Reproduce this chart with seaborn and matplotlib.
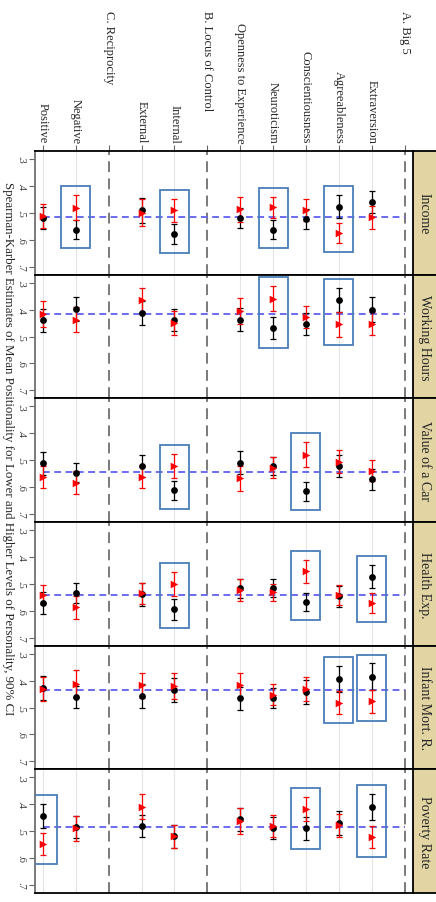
import numpy as np
import pandas as pd
import matplotlib.pyplot as plt
import matplotlib.transforms as mt
from matplotlib.patches import Rectangle
import seaborn as sns

cats=["Positive","Negative","External","Internal","Openness to Experience",
    "Neuroticism","Conscientiousness","Agreeableness","Extraversion"]
cat_pos=[1,2,4,5,7,8,9,10,11]
groups=["C. Reciprocity","B. Locus of Control","A. Big 5"]
group_pos=[3,6,12]
panels=["Income","Working Hours","Value of a Car","Health Exp.","Infant Mort. R.","Poverty Rate"]
ticks=[.3,.4,.5,.6,.7]
tick_labels=[".3",".4",".5",".6",".7"]

#black = lower level, red = higher level; ci = half width of 90% CI
income_low=[0.519,0.562,0.491,0.580,0.519,0.562,0.524,0.478,0.460]
income_low_ci=[0.040,0.037,0.045,0.037,0.038,0.035,0.037,0.043,0.042]
income_high=[0.511,0.481,0.499,0.491,0.487,0.480,0.489,0.574,0.517]
income_high_ci=[0.044,0.046,0.049,0.042,0.047,0.040,0.042,0.037,0.043]

hours_low=[0.439,0.399,0.412,0.439,0.437,0.468,0.455,0.365,0.400]
hours_low_ci=[0.043,0.045,0.045,0.042,0.043,0.040,0.041,0.045,0.046]
hours_high=[0.416,0.437,0.365,0.449,0.404,0.359,0.428,0.455,0.452]
hours_high_ci=[0.047,0.047,0.045,0.045,0.049,0.046,0.042,0.045,0.042]

car_low=[0.512,0.547,0.522,0.612,0.509,0.522,0.616,0.521,0.571]
car_low_ci=[0.043,0.035,0.042,0.036,0.043,0.035,0.036,0.040,0.039]
car_high=[0.562,0.584,0.562,0.521,0.568,0.528,0.479,0.506,0.540]
car_high_ci=[0.042,0.043,0.042,0.044,0.045,0.038,0.047,0.043,0.039]

health_low=[0.572,0.535,0.538,0.594,0.516,0.516,0.568,0.547,0.473]
health_low_ci=[0.040,0.038,0.043,0.039,0.035,0.033,0.034,0.040,0.043]
health_high=[0.541,0.587,0.535,0.500,0.522,0.532,0.454,0.541,0.572]
health_high_ci=[0.035,0.043,0.040,0.044,0.040,0.033,0.044,0.038,0.037]

infant_low=[0.427,0.461,0.458,0.436,0.466,0.464,0.443,0.393,0.386]
infant_low_ci=[0.046,0.040,0.045,0.045,0.043,0.038,0.045,0.049,0.050]
infant_high=[0.431,0.412,0.418,0.421,0.418,0.452,0.431,0.482,0.476]
infant_high_ci=[0.046,0.050,0.047,0.049,0.047,0.039,0.046,0.042,0.043]

poverty_low=[0.444,0.485,0.481,0.519,0.456,0.488,0.490,0.469,0.409]
poverty_low_ci=[0.044,0.040,0.042,0.043,0.043,0.040,0.042,0.045,0.048]
poverty_high=[0.548,0.490,0.409,0.519,0.463,0.481,0.416,0.478,0.521]
poverty_high_ci=[0.042,0.046,0.047,0.043,0.048,0.042,0.045,0.043,0.041]

panel_means=[0.517,0.415,0.543,0.541,0.433,0.484]

#highlighted (panel, category) pairs
boxes=[("Income","Negative"),("Income","Internal"),("Income","Neuroticism"),
    ("Income","Agreeableness"),("Working Hours","Neuroticism"),
    ("Working Hours","Agreeableness"),("Value of a Car","Internal"),
    ("Value of a Car","Conscientiousness"),("Health Exp.","Internal"),
    ("Health Exp.","Conscientiousness"),("Health Exp.","Extraversion"),
    ("Infant Mort. R.","Agreeableness"),("Infant Mort. R.","Extraversion"),
    ("Poverty Rate","Positive"),("Poverty Rate","Conscientiousness"),
    ("Poverty Rate","Extraversion")]

lows=[income_low,hours_low,car_low,health_low,infant_low,poverty_low]
lows_ci=[income_low_ci,hours_low_ci,car_low_ci,health_low_ci,infant_low_ci,poverty_low_ci]
highs=[income_high,hours_high,car_high,health_high,infant_high,poverty_high]
highs_ci=[income_high_ci,hours_high_ci,car_high_ci,health_high_ci,infant_high_ci,poverty_high_ci]

rows=[]
for p,lo,loc,hi,hic in zip(panels,lows,lows_ci,highs,highs_ci):
    for c,x,a,b,d,e in zip(cats,cat_pos,lo,loc,hi,hic):
        rows.append((p,c,x,"lower",a,b))
        rows.append((p,c,x,"higher",d,e))
df=pd.DataFrame(rows,columns=["panel","cat","pos","level","est","ci"])

sns.set_style("white")
plt.rcParams["font.family"]=["Liberation Serif","DejaVu Serif"]

W,H=436,903
fig=plt.figure(figsize=(W/100,H/100),dpi=100)
top0,ph=152,123.67
x0,x1=35,412.5
cols={"lower":"black","higher":"red"}
marks={"lower":"o","higher":">"}
sizes={"lower":24,"higher":30}

axes=[]
for i,p in enumerate(panels):
    tp=top0+i*ph
    ax=fig.add_axes([x0/W,1-(tp+ph)/H,(x1-x0)/W,ph/H])
    axes.append(ax)
    sub=df[df.panel==p]
    #light grid + group separators
    for x in cat_pos:
        ax.axvline(x,color="#e4e4e4",lw=0.8,zorder=0)
    for x in group_pos:
        ax.axvline(x,color="#707070",lw=1.3,ls=(0,(6,3.5)),zorder=1)
    ax.hlines(panel_means[i],1,12,color="#6a6af0",lw=1.4,ls=(0,(3.5,2.3)),zorder=2)
    #highlight boxes
    for bp,bc in boxes:
        if bp!=p:
            continue
        s=sub[sub.cat==bc]
        y0=(s.est-s.ci).min()-0.033
        y1=(s.est+s.ci).max()+0.033
        ax.add_patch(Rectangle((s.pos.iloc[0]-0.44,y0),0.88,y1-y0,
            fill=False,ec="#4a7ebb",lw=1.3,zorder=3))
    for lv in ["lower","higher"]:
        s=sub[sub.level==lv]
        ax.errorbar(s.pos,s.est,yerr=s.ci,fmt="none",ecolor=cols[lv],
            elinewidth=0.9,capsize=2.3,capthick=0.9,zorder=4)
        sns.scatterplot(data=s,x="pos",y="est",color=cols[lv],marker=marks[lv],
            s=sizes[lv],linewidth=0,legend=False,ax=ax,zorder=5)
    ax.set_xlim(0.76,12.24)
    ax.set_ylim(0.73,0.27)
    ax.set_yticks(ticks)
    ax.set_yticklabels(tick_labels,rotation=-90,va="center",ha="center",
        fontsize=7.5,color="#333333")
    ax.tick_params(axis="y",left=True,length=4,width=0.8,color="#666666",pad=6)
    ax.set_xlabel("")
    ax.set_ylabel("")
    for k in ["top","bottom"]:
        ax.spines[k].set_color("black")
        ax.spines[k].set_linewidth(1.3)
    ax.spines["left"].set_color("#707070")
    ax.spines["left"].set_linewidth(1.3)
    ax.spines["right"].set_visible(False)
    if i==0:
        ax.set_xticks(list(range(1,13)))
        lab=["" if x in group_pos else cats[cat_pos.index(x)] for x in range(1,13)]
        ax.set_xticklabels(lab,rotation=-90,va="bottom",ha="center",fontsize=9)
        ax.tick_params(axis="x",top=True,labeltop=True,bottom=False,
            labelbottom=False,length=4,width=0.8,color="#666666",pad=2)
        tr=mt.blended_transform_factory(ax.transData,fig.transFigure)
        for g,x in zip(groups,group_pos):
            ax.text(x,1-11/H,g,transform=tr,rotation=-90,va="top",ha="center",fontsize=9)
    else:
        ax.set_xticks([])
    #strip on the right
    sx=fig.add_axes([x1/W,1-(tp+ph)/H,(W-x1)/W,ph/H])
    sx.set_facecolor("#e3d5a3")
    sx.set_xticks([])
    sx.set_yticks([])
    for k in ["top","bottom","left"]:
        sx.spines[k].set_color("black")
        sx.spines[k].set_linewidth(1.3)
    sx.spines["right"].set_visible(False)
    sx.text(0.5,0.5,p,rotation=-90,va="center",ha="center",fontsize=10,
        transform=sx.transAxes)

fig.text(0.018,1-449/H,"Spearman-Karber Estimates of Mean Positionality for Lower and "
    "Higher Levels of Personality, 90% CI",rotation=-90,va="center",ha="center",fontsize=9.3)

fig.savefig("out.png",dpi=100)
